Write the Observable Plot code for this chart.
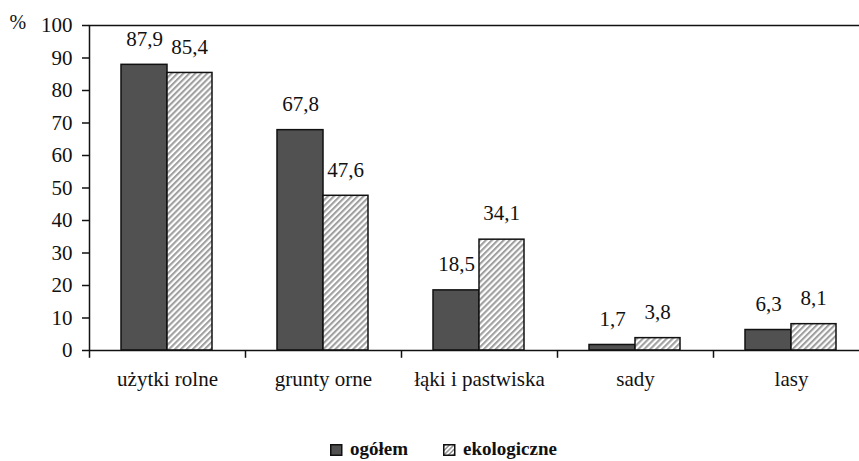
<!DOCTYPE html>
<html><head><meta charset="utf-8">
<script src="https://cdn.jsdelivr.net/npm/d3@7"></script>
<script src="https://cdn.jsdelivr.net/npm/@observablehq/plot@0.6"></script>
<style>
html,body{margin:0;padding:0;overflow:hidden;width:859px;height:461px;font-family:serif;}
#legend{display:block;}
</style></head>
<body>
<div id="chart" style="width:859px;height:400px;overflow:hidden"></div>
<svg id="legend" width="859" height="61" font-family="serif" font-size="19" font-weight="bold">
  <defs><pattern id="hatchL" patternUnits="userSpaceOnUse" width="3.2" height="3.2" patternTransform="rotate(45)"><rect width="3.2" height="3.2" fill="#fff"/><rect width="1.6" height="3.2" fill="#999"/></pattern></defs>
  <rect x="330.75" y="44.75" width="11" height="10.5" fill="#515151" stroke="#111" stroke-width="1.5"/>
  <text x="350" y="55" fill="#111">ogółem</text>
  <rect x="443.75" y="44.75" width="11" height="10.5" fill="url(#hatchL)" stroke="#111" stroke-width="1.5"/>
  <text x="463" y="55" fill="#111">ekologiczne</text>
</svg>
<script>
const categories = ["użytki rolne", "grunty orne", "łąki i pastwiska", "sady", "lasy"];
const ogolem = [87.9, 67.8, 18.5, 1.7, 6.3];
const ekologiczne = [85.4, 47.6, 34.1, 3.8, 8.1];
const yTicks = [0, 10, 20, 30, 40, 50, 60, 70, 80, 90, 100];

const fmt = v => v.toFixed(1).replace(".", ",");
const dataA = categories.map((c, i) => ({cat: c, v: ogolem[i]}));
const dataB = categories.map((c, i) => ({cat: c, v: ekologiczne[i]}));

const plot = Plot.plot({
  width: 869,
  height: 400,
  marginLeft: 89,
  marginRight: 0,
  marginTop: 25,
  marginBottom: 50,
  style: {fontFamily: "serif", fontSize: "20px", color: "#111", background: "#fff", maxWidth: "none"},
  x: {domain: categories, padding: 0},
  y: {domain: [0, 100]},
  marks: [
    Plot.barY(dataA, {x: "cat", y: "v", fill: "#515151", stroke: "#111", strokeWidth: 1.5, insetLeft: 32, insetRight: 78}),
    Plot.barY(dataB, {x: "cat", y: "v", fill: "url(#hatch)", stroke: "#111", strokeWidth: 1.5, insetLeft: 78, insetRight: 33}),
    Plot.text(dataA, {x: "cat", y: "v", text: d => fmt(d.v), dx: -23, dy: -26, fontSize: 21, fill: "#111"}),
    Plot.text(dataB, {x: "cat", y: "v", text: d => fmt(d.v), dx: 22, dy: -26, fontSize: 21, fill: "#111"}),
    Plot.ruleY([0], {stroke: "#111", strokeWidth: 1.5}),
    Plot.frame({anchor: "top", stroke: "#111", strokeWidth: 1.5}),
    Plot.ruleX(categories, {x: d => d, dx: -78, y1: 0, y2: -2.4, stroke: "#111", strokeWidth: 1.5}),
    Plot.ruleX(categories.slice(0,1), {x: d => d, dx: -78, y1: 0, y2: 100, stroke: "#111", strokeWidth: 1.5}),
    Plot.axisY({ticks: yTicks, tickSize: 7, tickPadding: 10, label: null, stroke: "#111", strokeWidth: 1.5, fill: "#111", fontSize: 21}),
    Plot.axisX({tickSize: 0, tickPadding: 21, label: null, fill: "#111", fontSize: 21}),
    Plot.text(["%"], {frameAnchor: "top-left", text: d => d, dx: -80, dy: -3, textAnchor: "start", lineAnchor: "middle", fontSize: 20, fill: "#111"})
  ]
});
const svg = d3.select(plot);
const defs = svg.insert("defs", ":first-child");
const p = defs.append("pattern").attr("id", "hatch").attr("patternUnits", "userSpaceOnUse")
  .attr("width", 4.2).attr("height", 4.2).attr("patternTransform", "rotate(45)");
p.append("rect").attr("width", 4.2).attr("height", 4.2).attr("fill", "#fff");
p.append("rect").attr("width", 2.1).attr("height", 4.2).attr("fill", "#a0a0a0");
document.getElementById("chart").appendChild(plot);
</script>
</body></html>
